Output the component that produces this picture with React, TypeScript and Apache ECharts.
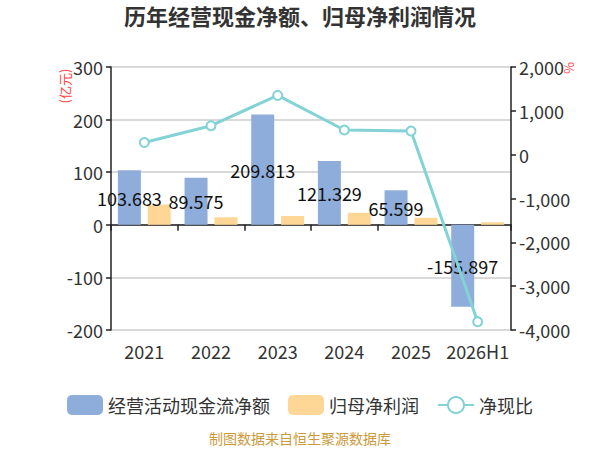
import React, { useEffect, useRef } from "react";
import * as echarts from "echarts";

const categories = ["2021", "2022", "2023", "2024", "2025", "2026H1"];
const operatingCashFlow = [103.683, 89.575, 209.813, 121.329, 65.599, -155.897];
const netProfit = [38.5, 14.4, 16.7, 22.8, 13.3, 4.9];
const cashRatio = [279, 660, 1352, 562, 539, -3810];
const leftTicks = { min: -200, max: 300, interval: 100 };
const rightTicks = { min: -4000, max: 2000, interval: 1000 };

const FONT = "'Noto Sans CJK SC', 'Noto Sans', sans-serif";

export default function App() {
  const ref = useRef<HTMLDivElement>(null);
  useEffect(() => {
    document.body.style.margin = "0";
    if (!ref.current) return;
    const chart = echarts.init(ref.current, undefined, { renderer: "svg" });
    chart.setOption({
      animation: false,
      backgroundColor: "#fff",
      textStyle: { fontFamily: FONT },
      title: {
        text: "历年经营现金净额、归母净利润情况",
        left: "center",
        top: 0,
        padding: [4, 5, 5, 5],
        textStyle: { fontSize: 22, fontWeight: "bold", color: "#333", fontFamily: FONT },
      },
      grid: { left: 111, right: 89, top: 67, bottom: 120 },
      legend: {
        top: 390,
        left: "center",
        itemWidth: 36,
        itemHeight: 20,
        itemGap: 18,
        textStyle: { fontSize: 18, color: "#333", fontFamily: FONT },
        data: [
          { name: "经营活动现金流净额", icon: "roundRect" },
          { name: "归母净利润", icon: "roundRect" },
          { name: "净现比" },
        ],
      },
      graphic: [
        {
          type: "text",
          x: 64,
          y: 86,
          rotation: Math.PI / 2,
          style: {
            text: "(亿元)",
            fill: "#ff4444",
            fontSize: 13,
            fontFamily: FONT,
            align: "center",
            verticalAlign: "middle",
          },
        },
        {
          type: "text",
          x: 568,
          y: 68,
          rotation: Math.PI / 2,
          style: {
            text: "%",
            fill: "#ff4444",
            fontSize: 13,
            fontFamily: FONT,
            align: "center",
            verticalAlign: "middle",
          },
        },
        {
          type: "text",
          left: "center",
          top: 431,
          style: {
            text: "制图数据来自恒生聚源数据库",
            fill: "#cc9a3a",
            fontSize: 14,
            fontFamily: FONT,
          },
        },
      ],
      xAxis: [
        {
          type: "category",
          data: categories,
          axisLine: { onZero: true, lineStyle: { color: "#222", width: 1.5 } },
          axisTick: { show: true, lineStyle: { color: "#222", width: 1.5 }, length: 6 },
          axisLabel: { show: false },
        },
        {
          type: "category",
          data: categories,
          position: "bottom",
          axisLine: { show: false, onZero: false },
          axisTick: { show: false },
          axisLabel: { interval: 0, fontSize: 18, color: "#333", margin: 12, fontFamily: FONT },
        },
      ],
      yAxis: [
        {
          type: "value",
          min: leftTicks.min,
          max: leftTicks.max,
          interval: leftTicks.interval,
          axisLine: { show: true, lineStyle: { color: "#222", width: 1.5 } },
          axisTick: { show: true, lineStyle: { color: "#222", width: 1.5 } },
          axisLabel: { fontSize: 18, color: "#333", fontFamily: FONT },
          splitLine: { show: true, lineStyle: { color: "#ccc", width: 1.5 } },
        },
        {
          type: "value",
          min: rightTicks.min,
          max: rightTicks.max,
          interval: rightTicks.interval,
          position: "right",
          axisLine: { show: true, lineStyle: { color: "#222", width: 1.5 } },
          axisTick: { show: true, lineStyle: { color: "#222", width: 1.5 } },
          axisLabel: {
            fontSize: 18,
            color: "#333",
            fontFamily: FONT,
            formatter: (v: number) => v.toLocaleString("en-US"),
          },
          splitLine: { show: false },
        },
      ],
      series: [
        {
          name: "经营活动现金流净额",
          type: "bar",
          data: operatingCashFlow,
          barWidth: 23,
          barGap: "30%",
          itemStyle: { color: "#8eaddb" },
          label: {
            show: true,
            position: "inside",
            color: "#111",
            fontSize: 18,
            fontFamily: FONT,
            formatter: (p: any) => String(p.value),
          },
        },
        {
          name: "归母净利润",
          type: "bar",
          data: netProfit,
          barWidth: 23,
          barGap: "30%",
          itemStyle: { color: "#fed696" },
        },
        {
          name: "净现比",
          type: "line",
          yAxisIndex: 1,
          data: cashRatio,
          symbol: "emptyCircle",
          symbolSize: 9,
          lineStyle: { width: 3, color: "#82d2d6" },
          itemStyle: { color: "#82d2d6", borderWidth: 2 },
          z: 5,
        },
      ],
    });
    return () => chart.dispose();
  }, []);
  return <div ref={ref} style={{ width: 600, height: 450 }} />;
}
